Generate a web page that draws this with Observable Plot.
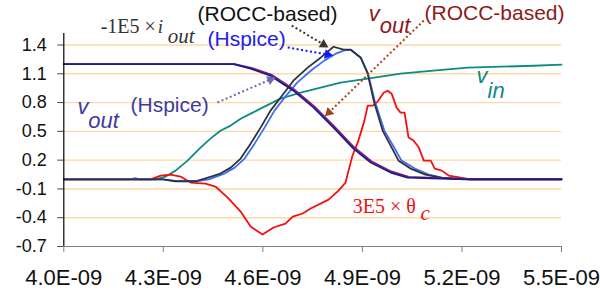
<!DOCTYPE html>
<html><head><meta charset="utf-8">
<script src="https://cdn.jsdelivr.net/npm/d3@7"></script>
<script src="https://cdn.jsdelivr.net/npm/@observablehq/plot@0.6"></script>
<style>
body{margin:0;background:#fff;}
#chart svg{display:block;}
g[aria-label="x-axis tick label"], g[aria-label="x-axis tick label"] text, g[aria-label="x-axis"] text {font-size:22px;}
g[aria-label="y-axis tick label"], g[aria-label="y-axis tick label"] text, g[aria-label="y-axis"] text {font-size:18px;}
g[aria-label="x-axis tick"] {stroke:#808080;}
g[aria-label="y-axis tick"] {stroke:#444;}
</style></head><body><div id="chart"></div>
<script>
// x in ns (labels shown as seconds)
const xTicks = [4.0, 4.3, 4.6, 4.9, 5.2, 5.5];
const xTickLabels = ["4.0E-09","4.3E-09","4.6E-09","4.9E-09","5.2E-09","5.5E-09"];
const yTicks = [-0.7,-0.4,-0.1,0.2,0.5,0.8,1.1,1.4];
const yTickLabels = ["-0.7","-0.4","-0.1","0.2","0.5","0.8","1.1","1.4"];
const gridValues = [-0.4,-0.1,0.2,0.5,0.8,1.1,1.4];

// series: [time (ns), value]
const vinPts = [[4.0,0],[4.276,0],[4.307,0.029],[4.337,0.091],[4.373,0.195],[4.412,0.330],[4.442,0.424],[4.472,0.507],[4.503,0.560],[4.533,0.632],[4.563,0.685],[4.593,0.737],[4.653,0.841],[4.714,0.903],[4.774,0.955],[4.834,1.007],[4.916,1.049],[5.015,1.101],[5.114,1.132],[5.217,1.164],[5.317,1.174],[5.416,1.184],[5.5,1.195]];
const thetaPts = [[4.0,0],[4.261,0],[4.292,0.039],[4.322,0.050],[4.352,0.029],[4.382,-0.034],[4.427,-0.044],[4.457,-0.075],[4.494,-0.190],[4.533,-0.336],[4.563,-0.492],[4.599,-0.575],[4.632,-0.502],[4.668,-0.461],[4.690,-0.388],[4.720,-0.356],[4.744,-0.304],[4.798,-0.211],[4.828,-0.117],[4.849,-0.034],[4.870,0.247],[4.888,0.404],[4.906,0.612],[4.916,0.768],[4.931,0.768],[4.946,0.810],[4.964,0.903],[4.976,0.924],[4.988,0.893],[5.003,0.747],[5.015,0.695],[5.027,0.695],[5.039,0.435],[5.054,0.404],[5.070,0.331],[5.085,0.195],[5.106,0.195],[5.118,0.112],[5.139,0.091],[5.160,0.039],[5.196,0.018],[5.226,0],[5.5,0]];
const ioutHspicePts = [[4.0,0],[4.200,0],[4.215,0.012],[4.230,0],[4.298,0],[4.340,-0.018],[4.400,-0.02],[4.437,0],[4.484,0.060],[4.515,0.122],[4.545,0.216],[4.575,0.372],[4.605,0.539],[4.635,0.716],[4.665,0.851],[4.704,1.010],[4.747,1.140],[4.786,1.240],[4.820,1.310],[4.845,1.345],[4.865,1.350],[4.895,1.268],[4.917,1.101],[4.937,0.820],[4.966,0.508],[4.992,0.352],[5.018,0.195],[5.058,0.112],[5.100,0.050],[5.140,0.018],[5.181,0.008],[5.226,0],[5.5,0]];
const ioutRoccPts = [[4.0,0],[4.298,0],[4.337,-0.02],[4.397,-0.02],[4.427,0.01],[4.472,0.060],[4.503,0.122],[4.533,0.216],[4.563,0.372],[4.593,0.539],[4.623,0.716],[4.653,0.851],[4.692,1.028],[4.735,1.164],[4.774,1.268],[4.813,1.382],[4.843,1.351],[4.865,1.351],[4.895,1.268],[4.916,1.101],[4.934,0.820],[4.961,0.508],[4.985,0.352],[5.009,0.195],[5.045,0.112],[5.090,0.050],[5.136,0.018],[5.181,0.008],[5.226,0],[5.5,0]];
const voutRoccPts = [[4.0,1.2],[4.515,1.2],[4.565,1.162],[4.625,1.092],[4.694,0.936],[4.755,0.760],[4.815,0.552],[4.875,0.334],[4.927,0.188],[4.987,0.082],[5.040,0.026],[5.136,0.012],[5.211,0.004],[5.5,0.004]];
const voutHspicePts = [[4.0,1.2],[4.512,1.2],[4.563,1.153],[4.623,1.080],[4.692,0.924],[4.753,0.747],[4.813,0.539],[4.873,0.320],[4.925,0.175],[4.985,0.071],[5.036,0.018],[5.136,0.008],[5.211,0],[5.5,0]];

// annotations (data coordinates of each text's baseline start)
const sansItalicLabels = [
  {text:"v", x:4.041, y:0.686, color:"#3C3C9C"},
  {text:"out", x:4.074, y:0.530, color:"#3C3C9C"},
  {text:"v", x:4.919, y:1.655, color:"#8B1A1A"},
  {text:"out", x:4.952, y:1.530, color:"#8B1A1A"},
  {text:"v", x:5.244, y:1.000, color:"#108A84"},
  {text:"in", x:5.277, y:0.843, color:"#108A84"}
];
const sansLabels = [
  {text:"(ROCC-based)", x:4.403, y:1.655, color:"#111111"},
  {text:"(Hspice)", x:4.433, y:1.385, color:"#2020F0"},
  {text:"(Hspice)", x:4.201, y:0.697, color:"#3C3C9C"},
  {text:"(ROCC-based)", x:5.087, y:1.665, color:"#8B1A1A"}
];
const serifLabels = [
  {text:"-1E5 \u00d7", x:4.111, y:1.530, color:"#333333"},
  {text:"3E5 \u00d7 \u03b8", x:4.871, y:-0.356, color:"#F41010"}
];
const serifItalicLabels = [
  {text:"i", x:4.283, y:1.530, color:"#333333", size:19},
  {text:"out", x:4.313, y:1.416, color:"#333333", size:21},
  {text:"c", x:5.075, y:-0.429, color:"#F41010", size:21}
];
const arrows = [
  {x1:4.687, y1:1.603, x2:4.783, y2:1.405, color:"#333333", rot:120.7},
  {x1:4.675, y1:1.374, x2:4.795, y2:1.301, color:"#1414FF", rot:99.9},
  {x1:4.463, y1:0.801, x2:4.623, y2:1.041, color:"#6A6AAE", rot:66.5},
  {x1:5.085, y1:1.655, x2:4.799, y2:0.697, color:"#A0461E", rot:-134.1}
];

const line = (pts, color) => Plot.line(pts, {x: d => d[0], y: d => d[1], stroke: color, strokeWidth: 1.8});

const chart = Plot.plot({
  width: 600, height: 295,
  marginLeft: 63.3, marginRight: 39, marginTop: 33, marginBottom: 49,
  style: {fontFamily: "'Liberation Sans', Arial, sans-serif", fontSize: "18px", color: "#111", background: "#fff", overflow: "visible"},
  x: {domain: [4.0, 5.5], ticks: xTicks, tickFormat: d => xTickLabels[xTicks.indexOf(d)], tickSize: 6, tickPadding: 17, label: null},
  y: {domain: [-0.7, 1.52], ticks: yTicks, tickFormat: d => yTickLabels[yTicks.indexOf(d)], tickSize: 6, tickPadding: 11, label: null},
  color: {type: "identity"},
  marks: [
    Plot.ruleY(gridValues, {stroke: "#FDD9A8", strokeWidth: 1.4}),
    line(vinPts, "#0F8A82"),
    line(thetaPts, "#F41010"),
    line(ioutHspicePts, "#3A70F0"),
    line(ioutRoccPts, "#303040"),
    line(voutRoccPts, "#7F1F7F"),
    line(voutHspicePts, "#1C1C84"),
    Plot.ruleY([-0.7], {stroke: "#808080", strokeWidth: 1.2}),
    Plot.ruleX([4.0], {stroke: "#000", strokeWidth: 1.2}),
    Plot.link(arrows, {x1: "x1", y1: "y1", x2: "x2", y2: "y2", stroke: d => d.color, strokeWidth: 2, strokeDasharray: "2,2.5"}),
    Plot.dot(arrows, {x: "x2", y: "y2", fill: d => d.color, symbol: "triangle", r: 3.6, rotate: d => d.rot}),
    Plot.text(sansItalicLabels, {x: "x", y: "y", text: "text", fill: d => d.color, textAnchor: "start", lineAnchor: "bottom", fontSize: 22, fontStyle: "italic", fontFamily: "'Liberation Sans', Arial, sans-serif"}),
    Plot.text(sansLabels, {x: "x", y: "y", text: "text", fill: d => d.color, textAnchor: "start", lineAnchor: "bottom", fontSize: 21, fontFamily: "'Liberation Sans', Arial, sans-serif"}),
    Plot.text(serifLabels, {x: "x", y: "y", text: "text", fill: d => d.color, textAnchor: "start", lineAnchor: "bottom", fontSize: 20, fontFamily: "'Liberation Serif', 'Times New Roman', serif"}),
    Plot.text(serifItalicLabels, {x: "x", y: "y", text: "text", fill: d => d.color, textAnchor: "start", lineAnchor: "bottom", fontSize: d => d.size, fontStyle: "italic", fontFamily: "'Liberation Serif', 'Times New Roman', serif"})
  ]
});
document.getElementById("chart").appendChild(chart);
</script></body></html>
